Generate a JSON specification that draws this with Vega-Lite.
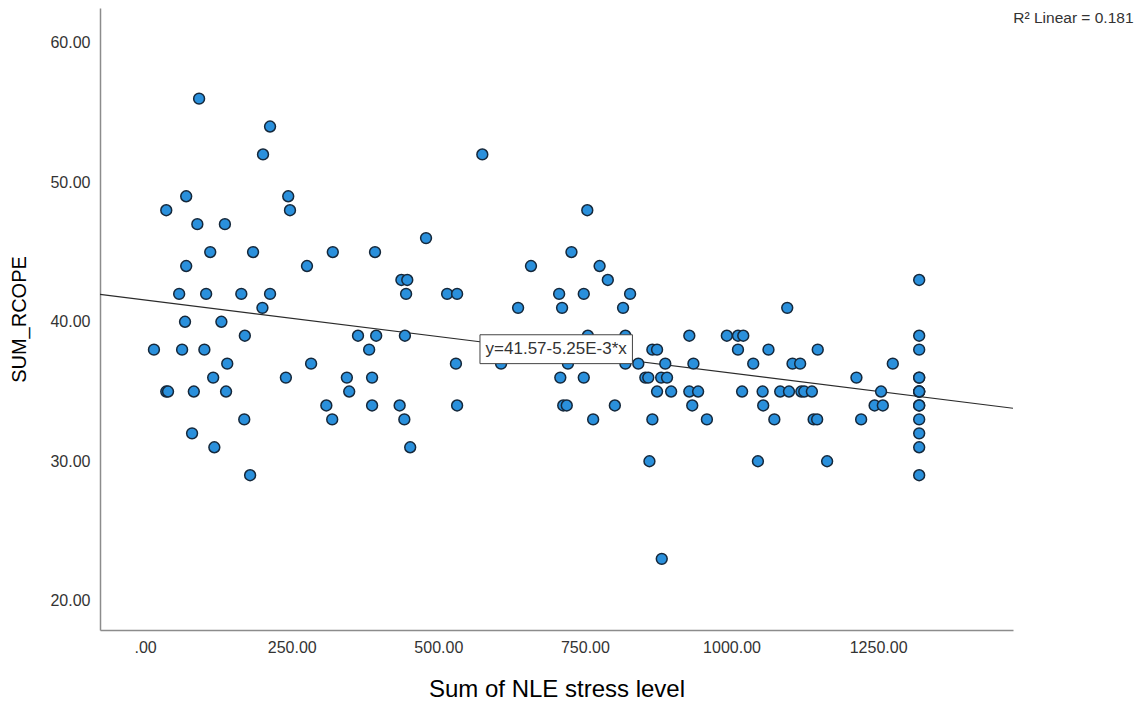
{
  "$schema": "https://vega.github.io/schema/vega-lite/v6.json",
  "width": 913,
  "height": 622,
  "autosize": {"type": "none"},
  "padding": {"left": 100, "top": 8, "right": 134, "bottom": 72},
  "background": "white",
  "config": {
    "view": {"stroke": null},
    "font": "Liberation Sans",
    "axis": {"grid": false, "ticks": false, "domainColor": "#8c8c8c", "domainWidth": 1.5, "labelColor": "#333333", "labelFontSize": 16, "titleColor": "#000000", "titleFontWeight": "normal", "labelFont": "Liberation Sans", "titleFont": "Liberation Sans"}
  },
  "datasets": {
    "pts": [
      {"nle": 92, "rcope": 56},
      {"nle": 213, "rcope": 54},
      {"nle": 201, "rcope": 52}, {"nle": 575, "rcope": 52},
      {"nle": 70, "rcope": 49}, {"nle": 244, "rcope": 49},
      {"nle": 36, "rcope": 48}, {"nle": 247, "rcope": 48}, {"nle": 754, "rcope": 48},
      {"nle": 89, "rcope": 47}, {"nle": 136, "rcope": 47},
      {"nle": 479, "rcope": 46},
      {"nle": 111, "rcope": 45}, {"nle": 184, "rcope": 45}, {"nle": 320, "rcope": 45}, {"nle": 392, "rcope": 45}, {"nle": 727, "rcope": 45},
      {"nle": 70, "rcope": 44}, {"nle": 276, "rcope": 44}, {"nle": 658, "rcope": 44}, {"nle": 775, "rcope": 44},
      {"nle": 437, "rcope": 43}, {"nle": 447, "rcope": 43}, {"nle": 789, "rcope": 43}, {"nle": 1320, "rcope": 43},
      {"nle": 58, "rcope": 42}, {"nle": 104, "rcope": 42}, {"nle": 164, "rcope": 42}, {"nle": 213, "rcope": 42}, {"nle": 445, "rcope": 42}, {"nle": 515, "rcope": 42}, {"nle": 532, "rcope": 42}, {"nle": 706, "rcope": 42}, {"nle": 748, "rcope": 42}, {"nle": 827, "rcope": 42},
      {"nle": 200, "rcope": 41}, {"nle": 636, "rcope": 41}, {"nle": 711, "rcope": 41}, {"nle": 815, "rcope": 41}, {"nle": 1095, "rcope": 41},
      {"nle": 68, "rcope": 40}, {"nle": 130, "rcope": 40},
      {"nle": 170, "rcope": 39}, {"nle": 363, "rcope": 39}, {"nle": 394, "rcope": 39}, {"nle": 443, "rcope": 39}, {"nle": 755, "rcope": 39}, {"nle": 819, "rcope": 39}, {"nle": 928, "rcope": 39}, {"nle": 992, "rcope": 39}, {"nle": 1011, "rcope": 39}, {"nle": 1020, "rcope": 39}, {"nle": 1320, "rcope": 39},
      {"nle": 15, "rcope": 38}, {"nle": 63, "rcope": 38}, {"nle": 101, "rcope": 38}, {"nle": 382, "rcope": 38}, {"nle": 865, "rcope": 38}, {"nle": 873, "rcope": 38}, {"nle": 1011, "rcope": 38}, {"nle": 1063, "rcope": 38}, {"nle": 1147, "rcope": 38}, {"nle": 1320, "rcope": 38},
      {"nle": 140, "rcope": 37}, {"nle": 283, "rcope": 37}, {"nle": 530, "rcope": 37}, {"nle": 607, "rcope": 37}, {"nle": 721, "rcope": 37}, {"nle": 819, "rcope": 37}, {"nle": 841, "rcope": 37}, {"nle": 887, "rcope": 37}, {"nle": 935, "rcope": 37}, {"nle": 1037, "rcope": 37}, {"nle": 1104, "rcope": 37}, {"nle": 1117, "rcope": 37}, {"nle": 1275, "rcope": 37},
      {"nle": 116, "rcope": 36}, {"nle": 240, "rcope": 36}, {"nle": 344, "rcope": 36}, {"nle": 387, "rcope": 36}, {"nle": 708, "rcope": 36}, {"nle": 748, "rcope": 36}, {"nle": 853, "rcope": 36}, {"nle": 858, "rcope": 36}, {"nle": 880, "rcope": 36}, {"nle": 890, "rcope": 36}, {"nle": 1213, "rcope": 36}, {"nle": 1320, "rcope": 36}, {"nle": 1320, "rcope": 36},
      {"nle": 36, "rcope": 35}, {"nle": 39, "rcope": 35}, {"nle": 83, "rcope": 35}, {"nle": 138, "rcope": 35}, {"nle": 348, "rcope": 35}, {"nle": 873, "rcope": 35}, {"nle": 897, "rcope": 35}, {"nle": 928, "rcope": 35}, {"nle": 943, "rcope": 35}, {"nle": 1018, "rcope": 35}, {"nle": 1053, "rcope": 35}, {"nle": 1083, "rcope": 35}, {"nle": 1098, "rcope": 35}, {"nle": 1119, "rcope": 35}, {"nle": 1124, "rcope": 35}, {"nle": 1137, "rcope": 35}, {"nle": 1255, "rcope": 35}, {"nle": 1320, "rcope": 35}, {"nle": 1320, "rcope": 35}, {"nle": 1320, "rcope": 35},
      {"nle": 309, "rcope": 34}, {"nle": 387, "rcope": 34}, {"nle": 434, "rcope": 34}, {"nle": 532, "rcope": 34}, {"nle": 713, "rcope": 34}, {"nle": 719, "rcope": 34}, {"nle": 801, "rcope": 34}, {"nle": 933, "rcope": 34}, {"nle": 1054, "rcope": 34}, {"nle": 1244, "rcope": 34}, {"nle": 1258, "rcope": 34}, {"nle": 1320, "rcope": 34}, {"nle": 1320, "rcope": 34},
      {"nle": 169, "rcope": 33}, {"nle": 319, "rcope": 33}, {"nle": 442, "rcope": 33}, {"nle": 764, "rcope": 33}, {"nle": 865, "rcope": 33}, {"nle": 958, "rcope": 33}, {"nle": 1073, "rcope": 33}, {"nle": 1140, "rcope": 33}, {"nle": 1146, "rcope": 33}, {"nle": 1221, "rcope": 33}, {"nle": 1320, "rcope": 33},
      {"nle": 80, "rcope": 32}, {"nle": 1320, "rcope": 32},
      {"nle": 118, "rcope": 31}, {"nle": 452, "rcope": 31}, {"nle": 1320, "rcope": 31},
      {"nle": 860, "rcope": 30}, {"nle": 1045, "rcope": 30}, {"nle": 1163, "rcope": 30},
      {"nle": 179, "rcope": 29}, {"nle": 1320, "rcope": 29},
      {"nle": 881, "rcope": 23}
    ],
    "fit": [
      {"nle": -77, "rcope": 41.97},
      {"nle": 1480, "rcope": 33.80}
    ],
    "box": [
      {"x1": 571, "x2": 831, "y1": 37.0, "y2": 39.07, "xc": 701, "yc": 38.03, "label": "y=41.57-5.25E-3*x"}
    ],
    "r2": [
      {"nle": 1583, "rcope": 61.8, "label": "R² Linear = 0.181"}
    ]
  },
  "layer": [
    {
      "data": {"name": "fit"},
      "mark": {"type": "line", "color": "#2b2b2b", "strokeWidth": 1.2, "clip": true},
      "encoding": {
        "x": {"field": "nle", "type": "quantitative", "scale": {"domain": [-77, 1480], "nice": false, "zero": false},
          "axis": {"values": [0, 250, 500, 750, 1000, 1250], "labelExpr": "datum.value == 0 ? '.00' : format(datum.value, '.2f')", "labelPadding": 9, "title": "Sum of NLE stress level", "titleFontSize": 24, "titlePadding": 22}},
        "y": {"field": "rcope", "type": "quantitative", "scale": {"domain": [17.9, 62.5], "nice": false, "zero": false},
          "axis": {"values": [20, 30, 40, 50, 60], "format": ".2f", "labelPadding": 10, "title": "SUM_RCOPE", "titleFontSize": 20, "titlePadding": 20}}
      }
    },
    {
      "data": {"name": "pts"},
      "mark": {"type": "point", "shape": "circle", "filled": true, "size": 118, "fill": "#2a90dc", "stroke": "#15283b", "strokeWidth": 1.5, "opacity": 1},
      "encoding": {
        "x": {"field": "nle", "type": "quantitative"},
        "y": {"field": "rcope", "type": "quantitative"}
      }
    },
    {
      "data": {"name": "box"},
      "mark": {"type": "rect", "fill": "white", "stroke": "#444444", "strokeWidth": 1},
      "encoding": {
        "x": {"field": "x1", "type": "quantitative"},
        "x2": {"field": "x2"},
        "y": {"field": "y1", "type": "quantitative"},
        "y2": {"field": "y2"}
      }
    },
    {
      "data": {"name": "box"},
      "mark": {"type": "text", "fontSize": 17, "color": "#333333", "align": "center", "baseline": "middle"},
      "encoding": {
        "x": {"field": "xc", "type": "quantitative"},
        "y": {"field": "yc", "type": "quantitative"},
        "text": {"field": "label"}
      }
    },
    {
      "data": {"name": "r2"},
      "mark": {"type": "text", "fontSize": 15.5, "color": "#333333", "align": "center", "baseline": "middle"},
      "encoding": {
        "x": {"field": "nle", "type": "quantitative"},
        "y": {"field": "rcope", "type": "quantitative"},
        "text": {"field": "label"}
      }
    }
  ]
}
